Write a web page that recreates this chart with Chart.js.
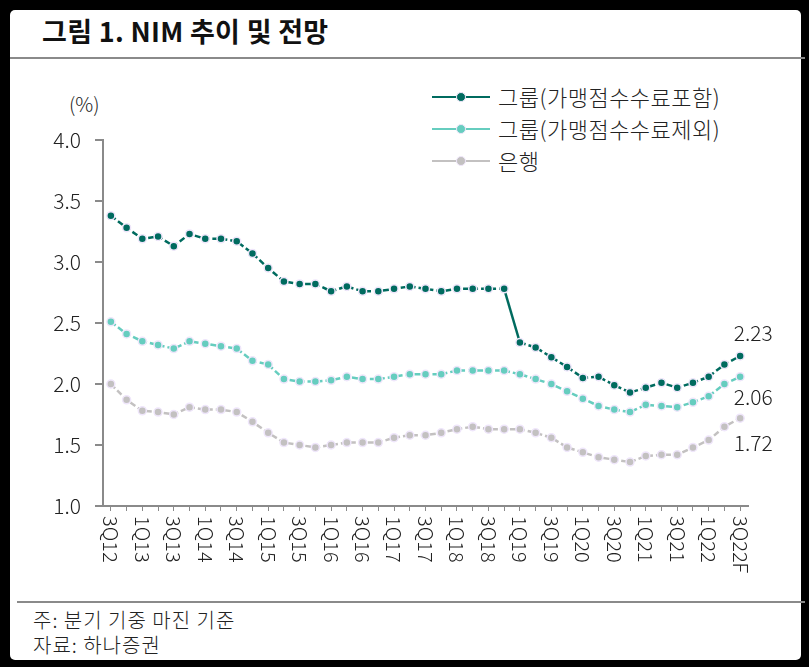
<!DOCTYPE html>
<html>
<head>
<meta charset="utf-8">
<script src="https://cdn.jsdelivr.net/npm/chart.js@4"></script>
<style>
  body { margin: 0; background: #000; width: 809px; height: 667px; position: relative; overflow: hidden; font-family: "Noto Sans CJK KR", "Noto Sans", sans-serif; font-weight: 300; }
  #card { position: absolute; left: 10px; top: 10px; width: 791px; height: 650px; background: #fff; border-radius: 5px; }
  #title { position: absolute; left: 42px; top: 11px; font-size: 27px; font-weight: bold; color: #111; letter-spacing: 0.3px; }
  .rule { position: absolute; height: 2px; background: #8a8a8a; }
  #unit { position: absolute; left: 69px; top: 89px; font-size: 20px; color: #222; }
  .note { position: absolute; left: 33px; font-size: 20px; color: #222; letter-spacing: 1px; }
  .leg { position: absolute; left: 432px; height: 24px; font-size: 22px; color: #222; line-height: 24px; }
  .leg .ln { position: absolute; left: 0; top: 11px; width: 58px; height: 2px; }
  .leg .dt { position: absolute; left: 24px; top: 7px; width: 8px; height: 8px; border-radius: 50%; border: 1.5px solid #efe6fb; }
  .leg .tx { position: absolute; left: 66px; top: -1px; white-space: nowrap; letter-spacing: 0.5px; }
  #chart { position: absolute; left: 0; top: 60px; }
</style>
</head>
<body>
<div id="card"></div>
<div id="title">그림 1. NIM 추이 및 전망</div>
<div class="rule" style="left:10px; top:57px; width:795px;"></div>
<div class="rule" style="left:17px; top:601px; width:788px;"></div>
<div id="unit">(%)</div>
<div id="legend"></div>
<canvas id="chart" width="809" height="540"></canvas>
<div class="note" style="top:605px;">주: 분기 기중 마진 기준</div>
<div class="note" style="top:630px;">자료: 하나증권</div>
<script>
const categories = [
  "3Q12", "4Q12", "1Q13", "2Q13", "3Q13", "4Q13", "1Q14", "2Q14", "3Q14", "4Q14",
  "1Q15", "2Q15", "3Q15", "4Q15", "1Q16", "2Q16", "3Q16", "4Q16", "1Q17", "2Q17",
  "3Q17", "4Q17", "1Q18", "2Q18", "3Q18", "4Q18", "1Q19", "2Q19", "3Q19", "4Q19",
  "1Q20", "2Q20", "3Q20", "4Q20", "1Q21", "2Q21", "3Q21", "4Q21", "1Q22", "2Q22", "3Q22F"
];

const groupIncl = [
  3.38, 3.28, 3.19, 3.21, 3.13, 3.23, 3.19, 3.19, 3.17, 3.07,
  2.95, 2.84, 2.82, 2.82, 2.76, 2.80, 2.76, 2.76, 2.78, 2.80,
  2.78, 2.76, 2.78, 2.78, 2.78, 2.78, 2.34, 2.30, 2.22, 2.14,
  2.05, 2.06, 1.99, 1.93, 1.97, 2.01, 1.97, 2.01, 2.06, 2.16, 2.23
];
const groupExcl = [
  2.51, 2.41, 2.35, 2.32, 2.29, 2.35, 2.33, 2.31, 2.29, 2.19,
  2.16, 2.04, 2.02, 2.02, 2.03, 2.06, 2.04, 2.04, 2.06, 2.08,
  2.08, 2.08, 2.11, 2.11, 2.11, 2.11, 2.08, 2.04, 2.00, 1.94,
  1.88, 1.82, 1.79, 1.77, 1.83, 1.82, 1.81, 1.85, 1.90, 2.00, 2.06
];
const bank = [
  2.00, 1.87, 1.78, 1.77, 1.75, 1.81, 1.79, 1.79, 1.77, 1.69,
  1.60, 1.52, 1.50, 1.48, 1.50, 1.52, 1.52, 1.52, 1.56, 1.58,
  1.58, 1.60, 1.63, 1.65, 1.63, 1.63, 1.63, 1.60, 1.56, 1.48,
  1.44, 1.40, 1.38, 1.36, 1.41, 1.42, 1.42, 1.48, 1.54, 1.65, 1.72
];
const yTicks = [1.0, 1.5, 2.0, 2.5, 3.0, 3.5, 4.0];

const seriesNames = ["그룹(가맹점수수료포함)", "그룹(가맹점수수료제외)", "은행"];
const colors = ["#006b5f", "#66cdbf", "#c3c1c1"];
const endOffsets = [-23, 20, 25];
const font = '"Noto Sans CJK KR", "Noto Sans", sans-serif';

// legend in html (line with a dot in the middle)
const legend = document.getElementById("legend");
seriesNames.forEach((name, i) => {
  const row = document.createElement("div");
  row.className = "leg";
  row.style.top = (85 + i * 32) + "px";
  row.innerHTML = '<div class="ln" style="background:' + colors[i] + '"></div>' +
    '<div class="dt" style="background:' + colors[i] + '"></div>' +
    '<div class="tx">' + name + '</div>';
  legend.appendChild(row);
});

function makeSet(label, data, color) {
  return {
    label: label,
    data: data,
    borderColor: color,
    backgroundColor: color,
    borderWidth: 2.5,
    borderDash: [6, 3],
    pointRadius: 4,
    pointBorderWidth: 1.5,
    pointBorderColor: "#efe6fb",
    pointBackgroundColor: color,
    tension: 0,
    segment: {
      borderDash: c => (label === seriesNames[0] && c.p0DataIndex === 25) ? [] : undefined
    }
  };
}

// x labels read top to bottom, plus the last values
const extraText = {
  id: "extraText",
  afterDraw(chart) {
    const ctx = chart.ctx;
    const x = chart.scales.x;
    const y = chart.scales.y;
    ctx.save();
    ctx.fillStyle = "#222";
    ctx.font = "300 20px " + font;
    categories.forEach((c, i) => {
      if (i % 2 !== 0) return;
      const px = x.getPixelForValue(i);
      ctx.save();
      ctx.translate(px, x.top + 10);
      ctx.rotate(Math.PI / 2);
      ctx.textAlign = "left";
      ctx.textBaseline = "middle";
      ctx.fillText(c, 0, 0);
      ctx.restore();
    });
    ctx.font = "300 21px " + font;
    ctx.textAlign = "center";
    ctx.textBaseline = "middle";
    chart.data.datasets.forEach((ds, i) => {
      const last = ds.data.length - 1;
      const px = x.getPixelForValue(last);
      const py = y.getPixelForValue(ds.data[last]);
      ctx.fillText(ds.data[last].toFixed(2), px + 13, py + endOffsets[i]);
    });
    ctx.restore();
  }
};

const chart = new Chart(document.getElementById("chart"), {
  type: "line",
  data: {
    labels: categories,
    datasets: [
      makeSet(seriesNames[0], groupIncl, colors[0]),
      makeSet(seriesNames[1], groupExcl, colors[1]),
      makeSet(seriesNames[2], bank, colors[2])
    ]
  },
  options: {
    responsive: false,
    animation: false,
    layout: { padding: { top: 80, right: 61, left: 0, bottom: 0 } },
    plugins: { legend: { display: false }, tooltip: { enabled: false } },
    scales: {
      x: {
        offset: true,
        grid: { drawOnChartArea: false, drawTicks: true, tickLength: 5, color: "#8a8a8a", lineWidth: 1 },
        border: { color: "#8a8a8a", width: 2 },
        ticks: { display: false, autoSkip: false },
        afterFit: s => { s.height = 94; }
      },
      y: {
        min: 1,
        max: 4,
        afterBuildTicks: s => { s.ticks = yTicks.map(v => ({ value: v })); },
        grid: { drawOnChartArea: false, drawTicks: true, tickLength: 8, color: "#8a8a8a", lineWidth: 2 },
        border: { color: "#8a8a8a", width: 2 },
        ticks: {
          padding: 14,
          color: "#222",
          font: { family: font, size: 21, weight: "300" },
          callback: v => v.toFixed(1)
        },
        afterFit: s => { s.width = 103; }
      }
    }
  },
  plugins: [extraText]
});
</script>
</body>
</html>
